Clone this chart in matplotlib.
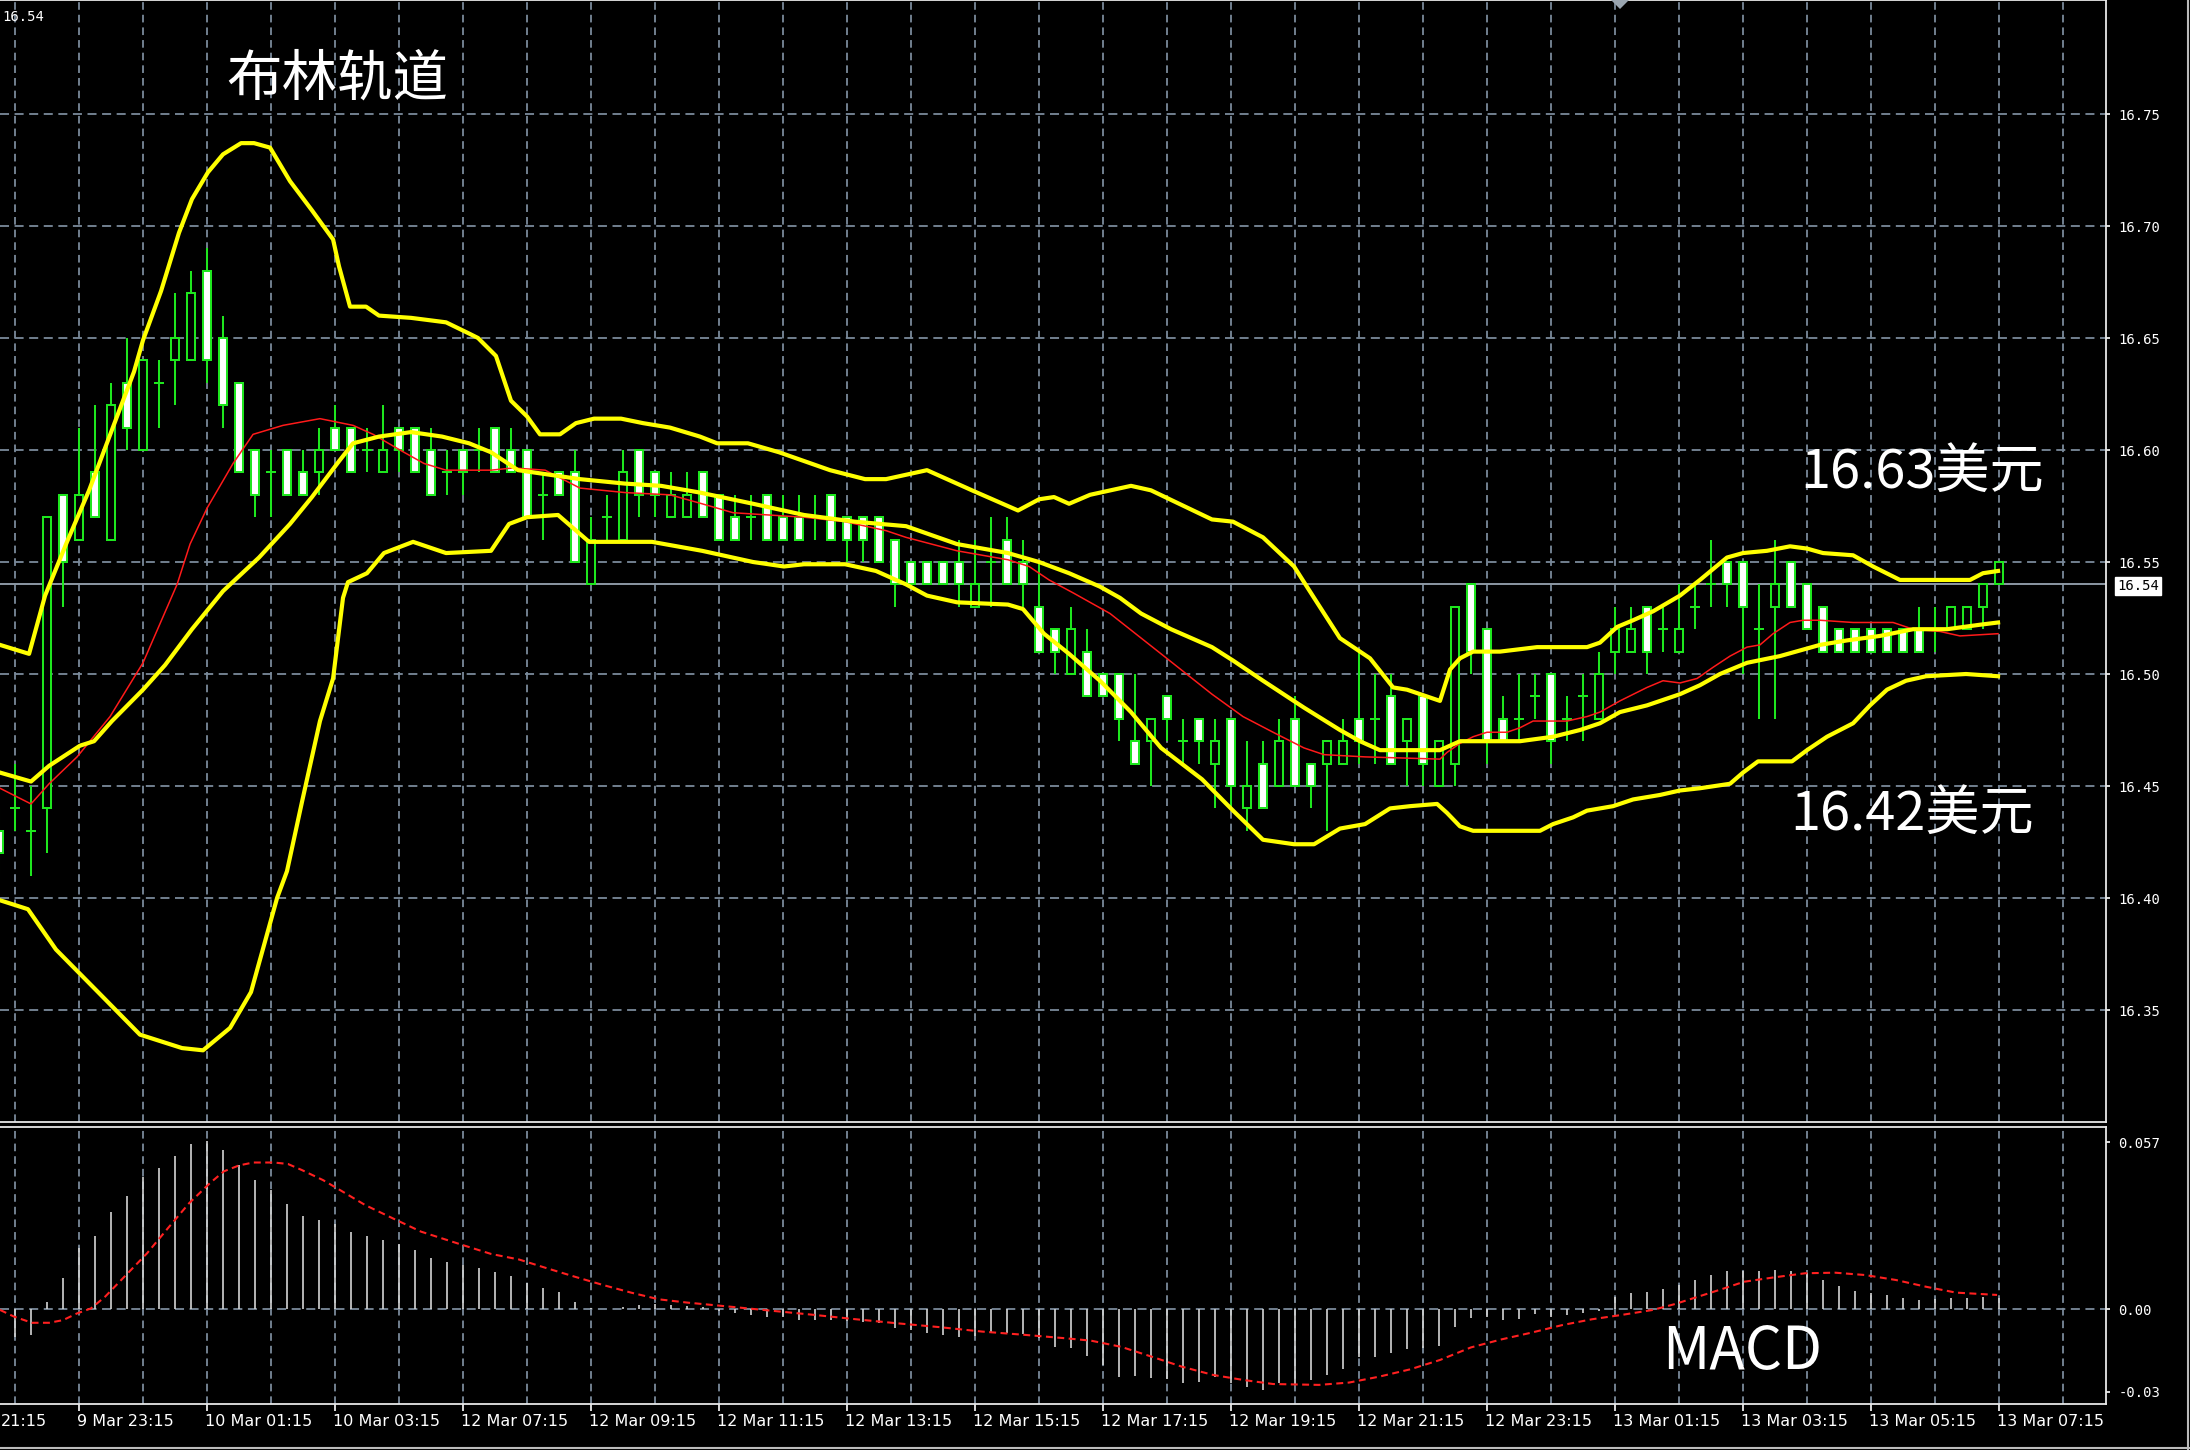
import matplotlib
matplotlib.use('Agg')
import matplotlib.pyplot as plt
from matplotlib.patches import Rectangle, Polygon
from matplotlib.lines import Line2D
import matplotlib.transforms as mtransforms

plt.rcParams['lines.scale_dashes'] = False

# ---------------- DATA ----------------
OPEN = [16.43,16.44,16.43,16.44,16.58,16.56,16.59,16.56,16.63,16.60,16.63,16.64,16.64,16.68,16.65,16.63,16.60,16.59,16.60,16.59,
        16.59,16.61,16.61,16.60,16.59,16.61,16.61,16.60,16.59,16.60,16.60,16.61,16.60,16.60,16.58,16.59,16.59,16.54,16.57,16.56,
        16.60,16.59,16.57,16.57,16.59,16.58,16.57,16.57,16.58,16.57,16.57,16.57,16.58,16.57,16.57,16.57,16.56,16.55,16.55,16.55,
        16.55,16.53,16.55,16.56,16.55,16.53,16.52,16.50,16.51,16.50,16.50,16.47,16.47,16.49,16.47,16.48,16.46,16.48,16.44,16.46,
        16.45,16.48,16.46,16.46,16.46,16.48,16.48,16.49,16.47,16.49,16.45,16.46,16.54,16.52,16.48,16.48,16.49,16.50,16.48,16.49,
        16.48,16.51,16.51,16.53,16.52,16.51,16.53,16.54,16.55,16.55,16.52,16.53,16.55,16.54,16.53,16.52,16.52,16.52,16.52,16.52,
        16.52,16.52,16.52,16.52,16.53,16.54]
HIGH = [16.44,16.46,16.45,16.57,16.58,16.61,16.62,16.63,16.65,16.64,16.64,16.67,16.68,16.69,16.66,16.63,16.60,16.60,16.60,16.60,
        16.61,16.62,16.61,16.61,16.62,16.61,16.61,16.61,16.60,16.60,16.61,16.61,16.61,16.60,16.59,16.59,16.60,16.57,16.58,16.60,
        16.60,16.59,16.59,16.59,16.59,16.58,16.58,16.58,16.58,16.58,16.58,16.58,16.58,16.57,16.57,16.57,16.56,16.55,16.55,16.55,
        16.56,16.56,16.57,16.57,16.56,16.55,16.52,16.53,16.52,16.50,16.50,16.50,16.48,16.49,16.48,16.48,16.48,16.48,16.47,16.47,
        16.48,16.49,16.46,16.47,16.48,16.51,16.50,16.50,16.48,16.49,16.47,16.53,16.54,16.52,16.49,16.50,16.50,16.50,16.49,16.50,
        16.51,16.53,16.53,16.53,16.53,16.54,16.54,16.56,16.55,16.55,16.54,16.56,16.55,16.54,16.53,16.52,16.52,16.52,16.52,16.52,
        16.53,16.53,16.53,16.53,16.54,16.55]
LOW = [16.41,16.43,16.41,16.42,16.53,16.56,16.57,16.56,16.60,16.60,16.61,16.62,16.64,16.63,16.61,16.59,16.57,16.57,16.58,16.58,
       16.58,16.60,16.59,16.59,16.59,16.59,16.59,16.58,16.58,16.58,16.59,16.59,16.59,16.57,16.56,16.58,16.55,16.54,16.56,16.56,
       16.57,16.57,16.57,16.57,16.57,16.56,16.56,16.56,16.56,16.56,16.56,16.56,16.56,16.55,16.55,16.55,16.53,16.54,16.54,16.54,
       16.53,16.53,16.53,16.54,16.53,16.51,16.50,16.50,16.49,16.49,16.47,16.46,16.45,16.47,16.46,16.46,16.44,16.44,16.43,16.44,
       16.45,16.45,16.44,16.43,16.46,16.46,16.46,16.46,16.45,16.45,16.45,16.45,16.50,16.46,16.47,16.47,16.48,16.46,16.47,16.47,
       16.48,16.50,16.51,16.50,16.51,16.51,16.52,16.53,16.53,16.50,16.48,16.48,16.53,16.52,16.51,16.51,16.51,16.51,16.51,16.51,
       16.51,16.51,16.52,16.52,16.52,16.54]
CLOSE = [16.42,16.44,16.43,16.57,16.55,16.58,16.57,16.62,16.61,16.64,16.63,16.65,16.67,16.64,16.62,16.59,16.58,16.59,16.58,16.58,
         16.60,16.60,16.59,16.60,16.60,16.60,16.59,16.58,16.59,16.59,16.60,16.59,16.59,16.57,16.58,16.58,16.55,16.56,16.57,16.59,
         16.58,16.58,16.58,16.58,16.57,16.56,16.56,16.57,16.56,16.56,16.56,16.57,16.56,16.56,16.56,16.55,16.54,16.54,16.54,16.54,
         16.54,16.54,16.55,16.54,16.54,16.51,16.51,16.52,16.49,16.49,16.48,16.46,16.48,16.48,16.47,16.47,16.47,16.45,16.45,16.44,
         16.47,16.45,16.45,16.47,16.47,16.47,16.48,16.46,16.48,16.46,16.47,16.53,16.51,16.47,16.47,16.48,16.49,16.47,16.48,16.49,
         16.50,16.52,16.52,16.51,16.52,16.52,16.53,16.54,16.54,16.53,16.52,16.54,16.53,16.52,16.51,16.51,16.51,16.51,16.51,16.51,
         16.51,16.52,16.53,16.53,16.54,16.55]

BB_UP_X = [0.06,1.88,2.88,4.25,5.63,7.06,8.44,9.0,10.13,11.25,12.06,13.06,14.0,15.13,15.94,16.94,18.19,19.56,20.88,21.25,
           21.94,22.94,23.75,25.75,27.94,29.38,29.94,31.06,32.0,33.0,33.81,35.06,36.06,37.19,38.88,40.25,41.94,43.81,44.88,46.81,
           48.75,51.94,54.13,55.44,58.0,60.81,63.69,65.0,65.94,66.88,68.19,70.75,72.0,75.81,77.13,79.0,80.94,82.19,83.81,85.69,
           87.13,88.0,90.06,90.69,91.31,92.13,93.81,96.13,99.25,100.06,101.13,102.13,103.38,105.06,106.31,108.0,109.0,110.5,111.94,113.0,
           114.0,115.88,117.13,118.81,120.88,123.19,124.0,124.94]
BB_UP = [16.513,16.509,16.535,16.559,16.582,16.609,16.635,16.649,16.671,16.697,16.712,16.724,16.732,16.737,16.737,16.735,16.720,16.707,16.694,16.682,
         16.664,16.664,16.660,16.659,16.657,16.652,16.650,16.642,16.622,16.615,16.607,16.607,16.612,16.614,16.614,16.612,16.610,16.606,16.603,16.603,
         16.599,16.591,16.587,16.587,16.591,16.582,16.573,16.578,16.579,16.576,16.580,16.584,16.582,16.569,16.568,16.561,16.548,16.534,16.516,16.507,
         16.494,16.493,16.488,16.502,16.507,16.510,16.510,16.512,16.512,16.514,16.521,16.524,16.528,16.535,16.542,16.552,16.554,16.555,16.557,16.556,
         16.554,16.553,16.548,16.542,16.542,16.542,16.545,16.546]

BB_MID_X = [0.06,2.0,3.13,5.06,5.94,7.06,9.0,10.38,12.06,14.0,16.25,18.19,19.56,21.25,22.13,23.75,25.75,27.69,29.38,30.75,
            32.44,34.38,36.31,39.13,41.38,43.81,47.13,50.31,53.5,56.69,59.88,63.06,65.0,66.88,68.81,70.06,71.38,73.25,75.81,77.13,
            79.0,81.56,83.81,85.06,86.31,90.06,91.31,95.06,97.13,98.81,100.06,101.31,103.0,105.06,106.31,107.56,109.25,111.31,113.81,115.5,
            117.56,119.63,121.75,123.81,124.94]
BB_MID = [16.456,16.452,16.459,16.468,16.470,16.479,16.493,16.504,16.520,16.537,16.552,16.567,16.579,16.595,16.603,16.606,16.608,16.606,16.603,16.599,
          16.591,16.589,16.587,16.585,16.584,16.581,16.576,16.571,16.568,16.566,16.558,16.554,16.550,16.545,16.539,16.534,16.527,16.520,16.512,16.506,
          16.497,16.485,16.475,16.470,16.466,16.466,16.470,16.470,16.472,16.475,16.478,16.483,16.486,16.491,16.495,16.500,16.505,16.508,16.513,16.515,
          16.517,16.520,16.520,16.522,16.523]

BB_LOW_X = [0.06,1.81,3.56,6.19,8.81,11.44,12.75,14.44,15.75,17.38,18.0,18.94,20.06,20.88,21.5,21.81,23.0,24.06,25.88,27.94,
            30.75,31.88,33.0,34.94,36.88,39.13,40.81,43.94,47.13,49.06,50.31,52.88,54.81,56.69,58.0,59.88,63.06,64.0,65.31,66.88,
            68.81,70.75,72.63,75.19,77.13,79.0,80.94,82.19,83.81,85.38,86.94,88.19,89.88,90.5,91.31,92.13,96.31,97.13,98.38,99.25,
            100.88,102.13,103.81,105.06,106.31,108.19,109.0,109.94,112.06,113.0,114.25,115.88,116.94,118.0,119.19,120.44,122.94,124.94]
BB_LOW = [16.399,16.395,16.377,16.358,16.339,16.333,16.332,16.342,16.358,16.400,16.412,16.443,16.479,16.498,16.534,16.541,16.545,16.554,16.559,16.554,
          16.555,16.567,16.570,16.571,16.559,16.559,16.559,16.555,16.550,16.548,16.549,16.549,16.546,16.540,16.535,16.532,16.531,16.529,16.518,16.509,
          16.497,16.483,16.467,16.453,16.439,16.426,16.424,16.424,16.431,16.433,16.440,16.441,16.442,16.438,16.432,16.430,16.430,16.433,16.436,16.439,
          16.441,16.444,16.446,16.448,16.449,16.451,16.456,16.461,16.461,16.466,16.472,16.478,16.486,16.493,16.497,16.499,16.500,16.499]

MA_X = [0.06,2.0,3.13,4.88,6.94,9.0,11.13,11.94,13.0,14.63,15.88,17.75,20.06,22.13,23.38,25.06,26.56,27.94,30.75,32.13,
        34.13,36.31,39.13,41.94,43.94,45.88,50.31,52.88,55.44,56.69,59.88,63.06,64.38,65.63,67.19,69.44,72.63,75.81,77.75,79.63,
        81.56,82.81,85.38,90.06,90.5,91.31,92.13,93.0,94.25,95.06,95.88,98.0,99.25,100.06,101.31,103.0,104.0,105.06,106.13,107.13,
        108.19,109.25,110.06,110.88,111.94,112.75,113.81,115.88,118.38,119.63,121.31,122.56,124.94]
MA = [16.449,16.442,16.451,16.463,16.481,16.505,16.540,16.558,16.574,16.594,16.607,16.611,16.614,16.611,16.607,16.600,16.594,16.591,16.591,16.592,
      16.591,16.583,16.581,16.580,16.576,16.572,16.570,16.568,16.564,16.561,16.555,16.551,16.548,16.542,16.536,16.527,16.509,16.491,16.481,16.474,
      16.467,16.464,16.463,16.462,16.465,16.469,16.472,16.474,16.474,16.476,16.479,16.479,16.481,16.483,16.488,16.494,16.497,16.496,16.498,16.503,
      16.508,16.512,16.513,16.518,16.523,16.524,16.524,16.523,16.523,16.520,16.519,16.517,16.518]

MACD_HIST = [-0.0099,-0.0095,-0.0089,0.0025,0.0107,0.0207,0.0249,0.0332,0.0386,0.0452,0.0480,0.0522,0.0563,0.0574,0.0543,0.0491,0.0440,0.0406,0.0358,0.0317,
             0.0304,0.0290,0.0264,0.0249,0.0236,0.0222,0.0201,0.0173,0.0162,0.0150,0.0139,0.0127,0.0113,0.0088,0.0071,0.0057,0.0025,0.0002,0.0000,0.0008,
             0.0014,0.0017,0.0014,0.0010,0.0006,-0.0006,-0.0015,-0.0020,-0.0028,-0.0026,-0.0038,-0.0038,-0.0038,-0.0041,-0.0043,-0.0049,-0.0066,-0.0072,-0.0083,-0.0089,
             -0.0094,-0.0092,-0.0083,-0.0083,-0.0086,-0.0100,-0.0129,-0.0134,-0.0160,-0.0190,-0.0231,-0.0228,-0.0236,-0.0240,-0.0251,-0.0248,-0.0231,-0.0254,-0.0267,-0.0277,
             -0.0251,-0.0256,-0.0242,-0.0225,-0.0206,-0.0163,-0.0163,-0.0151,-0.0138,-0.0134,-0.0126,-0.0060,-0.0032,-0.0028,-0.0037,-0.0035,-0.0017,-0.0028,-0.0020,-0.0015,
             -0.0006,0.0042,0.0053,0.0059,0.0070,0.0082,0.0099,0.0116,0.0131,0.0131,0.0131,0.0133,0.0131,0.0122,0.0099,0.0078,0.0062,0.0053,0.0048,0.0036,
             0.0031,0.0033,0.0036,0.0036,0.0040,0.0036]

SIG_X = [0.06,0.94,2.06,3.13,4.0,4.88,5.75,6.63,7.94,9.25,10.56,11.88,13.19,14.06,15.0,15.88,17.19,18.06,18.94,20.25,
         21.13,22.88,24.63,26.38,29.0,30.75,32.5,34.25,36.0,37.75,39.5,41.25,43.0,45.69,48.31,50.94,53.56,56.19,58.81,61.44,
         64.06,66.69,68.25,70.13,72.06,73.94,75.88,77.75,79.63,82.5,84.38,86.25,88.19,90.06,92.0,93.88,95.75,97.69,99.56,101.44,
         103.38,104.75,106.19,107.63,109.06,110.94,112.88,114.75,116.63,118.56,120.44,122.31,124.88]
SIGNAL = [-0.0003,-0.0026,-0.0047,-0.0047,-0.0038,-0.0015,0.0002,0.0042,0.0116,0.0190,0.0276,0.0361,0.0430,0.0470,0.0490,0.0500,0.0500,0.0495,0.0474,0.0440,
          0.0412,0.0355,0.0309,0.0264,0.0218,0.0188,0.0169,0.0139,0.0110,0.0082,0.0056,0.0033,0.0022,0.0008,-0.0006,-0.0020,-0.0035,-0.0049,-0.0062,-0.0077,
          -0.0088,-0.0100,-0.0108,-0.0129,-0.0163,-0.0197,-0.0225,-0.0242,-0.0256,-0.0259,-0.0251,-0.0231,-0.0206,-0.0174,-0.0131,-0.0104,-0.0081,-0.0055,-0.0035,-0.0020,
          -0.0003,0.0017,0.0042,0.0067,0.0093,0.0108,0.0122,0.0124,0.0116,0.0099,0.0076,0.0056,0.0048]

PRICE_TICKS = [16.35, 16.40, 16.45, 16.50, 16.55, 16.60, 16.65, 16.70, 16.75]
MACD_TICKS = [0.057, 0.0, -0.0283]
MACD_TICK_LABELS = ['0.057', '0.00', '-0.03']
BID = 16.54
FIRST_TIME_LABEL = '21:15'   # left part of "9 Mar 21:15" is off-screen in the reference
TIME_LABELS = ['9 Mar 23:15', '10 Mar 01:15', '10 Mar 03:15', '12 Mar 07:15', '12 Mar 09:15',
               '12 Mar 11:15', '12 Mar 13:15', '12 Mar 15:15', '12 Mar 17:15', '12 Mar 19:15', '12 Mar 21:15',
               '12 Mar 23:15', '13 Mar 01:15', '13 Mar 03:15', '13 Mar 05:15', '13 Mar 07:15']
TIME_LABEL_BARS = list(range(5, 126, 8))
GRID_BARS = list(range(1, 130, 4))
TITLE = '布林轨道'
RES_LABEL = '16.63美元'
SUP_LABEL = '16.42美元'
MACD_LABEL = 'MACD'

# ---------------- LAYOUT ----------------
W, H, DPI = 2190, 1450, 100
PANEL_R = 2106
MAIN_BOT = 1122
MACD_TOP, MACD_BOT = 1127, 1404

GREEN = '#1ee61e'
YELLOW = '#ffff00'
GRID = '#7a8a9a'
CJK = ['Noto Sans CJK SC', 'DejaVu Sans']

def fx(px):
    return px / W

def fy(py):
    return 1 - py / H

fig = plt.figure(figsize=(W / DPI, H / DPI), dpi=DPI, facecolor='black')
ax = fig.add_axes([0, fy(MAIN_BOT), fx(PANEL_R), MAIN_BOT / H], facecolor='black')
axm = fig.add_axes([0, fy(MACD_BOT), fx(PANEL_R), (MACD_BOT - MACD_TOP) / H], facecolor='black')

XL = (1 / 16, (PANEL_R + 1) / 16)
for a in (ax, axm):
    a.set_xlim(*XL)
    for s in ('top', 'right', 'bottom'):
        a.spines[s].set_color('#e8e8e8')
        a.spines[s].set_linewidth(1.3)
    a.spines['left'].set_visible(False)
    for b in GRID_BARS:
        a.axvline(b, color=GRID, lw=1.3, dashes=(5.5, 3.6), zorder=1)

ax.set_ylim(16.30, 16.8009)
axm.set_ylim(-0.03242, 0.06212)

# grid horizontal
for p in PRICE_TICKS:
    ax.axhline(p, color=GRID, lw=1.3, dashes=(6.5, 4.0), zorder=1)
axm.axhline(0.0, color=GRID, lw=1.3, dashes=(6.5, 4.0), zorder=1)

# bid line
ax.axhline(BID, color='#8c98a4', lw=1.4, zorder=2)

# candles
BODY_W = 0.5
for i, (o, h, l, c) in enumerate(zip(OPEN, HIGH, LOW, CLOSE)):
    ax.plot([i, i], [l, h], color=GREEN, lw=1.45, zorder=3, solid_capstyle='butt')
    if abs(c - o) < 1e-9:
        ax.plot([i - 0.29, i + 0.29], [o, o], color=GREEN, lw=1.45, zorder=4, solid_capstyle='butt')
    else:
        face = 'white' if c < o else 'black'
        ax.add_patch(Rectangle((i - BODY_W / 2, min(o, c)), BODY_W, abs(c - o),
                               facecolor=face, edgecolor=GREEN, lw=1.45, zorder=4))

# indicators
ax.plot(BB_UP_X, BB_UP, color=YELLOW, lw=3.0, zorder=6, solid_joinstyle='round')
ax.plot(BB_MID_X, BB_MID, color=YELLOW, lw=3.0, zorder=6, solid_joinstyle='round')
ax.plot(BB_LOW_X, BB_LOW, color=YELLOW, lw=3.0, zorder=6, solid_joinstyle='round')
ax.plot(MA_X, MA, color='#ff1a1a', lw=1.1, zorder=5)

# right price axis
ax.yaxis.tick_right()
ax.set_yticks(PRICE_TICKS)
ax.set_yticklabels(['%.2f' % p for p in PRICE_TICKS], family='DejaVu Sans Mono', fontsize=10)
ax.tick_params(axis='y', colors='white', length=3, width=1.2, pad=6)
ax.set_xticks([])

# MACD
axm.vlines(range(len(MACD_HIST)), 0, MACD_HIST, color='#d4d4d4', lw=1.2, zorder=3)
axm.plot(SIG_X, SIGNAL, color='#ff2020', lw=1.5, dashes=(5.0, 3.2), zorder=4)
axm.yaxis.tick_right()
axm.set_yticks(MACD_TICKS)
axm.set_yticklabels(MACD_TICK_LABELS, family='DejaVu Sans Mono', fontsize=10)
axm.tick_params(axis='y', colors='white', length=3, width=1.2, pad=6)
axm.set_xticks(TIME_LABEL_BARS)
axm.set_xticklabels([])
axm.tick_params(axis='x', colors='white', length=5, width=1.2, direction='out')

trans = mtransforms.blended_transform_factory(axm.transData, axm.transAxes)
for b, lab in zip(TIME_LABEL_BARS, TIME_LABELS):
    axm.text(b - 0.15, -0.035, lab, transform=trans, ha='left', va='top', color='white',
             fontsize=11.5, family='DejaVu Sans', clip_on=False)
fig.text(fx(1), fy(MACD_BOT + 9.5), FIRST_TIME_LABEL, ha='left', va='top', color='white',
         fontsize=11.5, family='DejaVu Sans')

# annotations
fig.text(fx(226), fy(80), TITLE, color='white', fontsize=40, family=CJK, ha='left', va='center')
fig.text(fx(1800), fy(472), RES_LABEL, color='white', fontsize=39, family=CJK, ha='left', va='center')
fig.text(fx(1790), fy(814), SUP_LABEL, color='white', fontsize=39, family=CJK, ha='left', va='center')
fig.text(fx(1662), fy(1353), MACD_LABEL, color='white', fontsize=42, family=CJK, ha='left', va='center')

# small readouts
fig.text(fx(2), fy(17), '16.54', color='white', fontsize=10, family='DejaVu Sans Mono', ha='left', va='center')
fig.text(fx(2117), fy(586), '%.2f' % BID, color='black', fontsize=10, family='DejaVu Sans Mono',
         ha='left', va='center', bbox=dict(facecolor='white', edgecolor='white', pad=1.5))

# shift marker and window borders
fig.patches.append(Polygon([[fx(1611), fy(0)], [fx(1629), fy(0)], [fx(1620), fy(9)]], closed=True,
                           transform=fig.transFigure, facecolor='#9aa5b0', edgecolor='none'))
fig.lines.append(Line2D([fx(2188), fx(2188)], [0, 1], transform=fig.transFigure, color='#bbbbbb', lw=1.5))
fig.lines.append(Line2D([0, 1], [fy(1448), fy(1448)], transform=fig.transFigure, color='#bbbbbb', lw=1.5))

fig.savefig('out.png', dpi=DPI, facecolor='black')
